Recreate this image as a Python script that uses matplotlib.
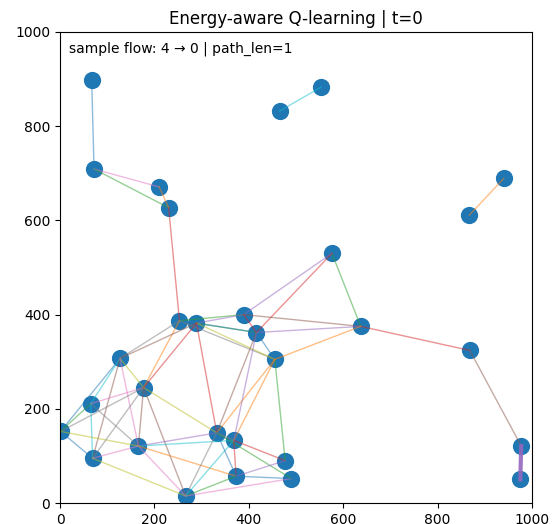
import matplotlib
matplotlib.use("Agg")
import matplotlib.pyplot as plt

# node coordinates (index = node id)
node_x = [975, 67, 72, 210, 977, 230, 465, 553, 867, 940,
          576, 637, 868, 253, 289, 389, 416, 455, 127, 177,
          65, 1, 69, 166, 332, 368, 477, 490, 373, 266]
node_y = [50, 898, 709, 671, 121, 627, 832, 883, 611, 689,
          530, 375, 324, 387, 382, 400, 362, 305, 307, 245,
          211, 152, 95, 121, 149, 133, 90, 52, 57, 15]

# links between nodes
edges = [(1, 2), (2, 3), (2, 5), (3, 5), (5, 13), (6, 7), (8, 9),
         (10, 11), (10, 15), (10, 16), (11, 12), (12, 4),
         (13, 15), (14, 15), (14, 16), (14, 16), (13, 17), (14, 17),
         (15, 11), (15, 16), (16, 11), (16, 17), (17, 11), (17, 26),
         (17, 24), (17, 25), (16, 25), (16, 24), (14, 24), (13, 19),
         (14, 19), (18, 13), (18, 14), (18, 19), (19, 24), (18, 21),
         (18, 20), (20, 21), (18, 22), (18, 23), (20, 19), (20, 22),
         (20, 23), (21, 19), (21, 22), (21, 23), (22, 19), (22, 23),
         (22, 29), (23, 19), (19, 29), (23, 29), (23, 24), (23, 25),
         (23, 28), (24, 29), (25, 29), (29, 28), (29, 27), (25, 26),
         (24, 27), (25, 28), (28, 26), (28, 27), (24, 25), (24, 28)]
# tab10 colour index used for each link
edge_color_idx = [0, 6, 2, 1, 3, 9, 1,
                  2, 4, 3, 3, 5,
                  2, 4, 2, 0, 7, 8,
                  5, 3, 4, 0, 1, 2,
                  1, 1, 4, 5, 3, 1,
                  3, 7, 5, 8, 8, 0,
                  9, 2, 5, 6, 6, 9,
                  7, 7, 0, 8, 7, 6,
                  8, 5, 5, 6, 4, 9,
                  1, 7, 9, 2, 6, 3,
                  2, 3, 4, 0, 7, 0]

# sample flow path
path = [4, 0]
flow_src, flow_dst = 4, 0

palette = plt.get_cmap("tab10").colors

fig, ax = plt.subplots(figsize=(5.56, 5.24), dpi=100)
fig.subplots_adjust(left=0.108, right=0.957, bottom=0.040, top=0.939)

ax.scatter(node_x, node_y, s=130, color="#1f77b4", zorder=1)

for (i, j), c in zip(edges, edge_color_idx):
    ax.plot([node_x[i], node_x[j]], [node_y[i], node_y[j]],
            color=palette[c], linewidth=1, alpha=0.5, zorder=2)

for a, b in zip(path[:-1], path[1:]):
    ax.plot([node_x[a], node_x[b]], [node_y[a], node_y[b]],
            color="tab:purple", linewidth=3, alpha=0.9, zorder=3)

ax.text(0.02, 0.98, f"sample flow: {flow_src} \u2192 {flow_dst} | path_len={len(path) - 1}",
        transform=ax.transAxes, ha="left", va="top", fontsize=10)

ax.set_xlim(0, 1000)
ax.set_ylim(0, 1000)
ax.set_title("Energy-aware Q-learning | t=0", fontsize=12)

fig.savefig("out.png", dpi=100)
